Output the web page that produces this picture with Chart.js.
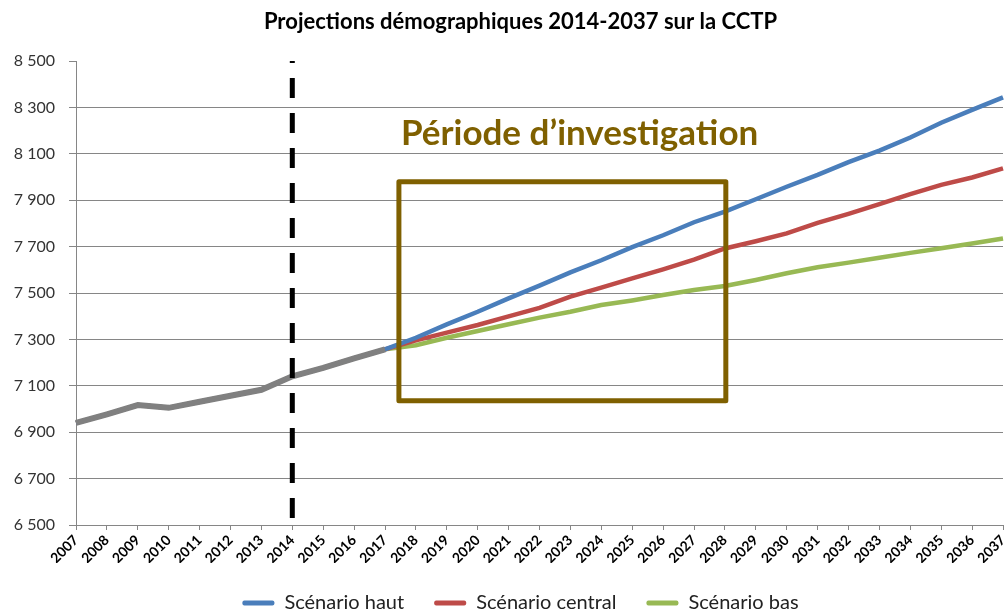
<!DOCTYPE html>
<html lang="fr">
<head>
<meta charset="utf-8">
<title>Projections démographiques 2014-2037 sur la CCTP</title>
<script src="https://cdn.jsdelivr.net/npm/chart.js@4.4.1/dist/chart.umd.min.js"></script>
<style>
  html, body { margin: 0; padding: 0; background: #fff; }
  #wrap { width: 1005px; height: 613px; position: relative; }
</style>
</head>
<body>
<div id="wrap"><canvas id="projections"></canvas></div>
<script>
// données
var annees = ["2007", "2008", "2009", "2010", "2011", "2012", "2013", "2014", "2015", "2016",
    "2017", "2018", "2019", "2020", "2021", "2022", "2023", "2024", "2025", "2026", "2027",
    "2028", "2029", "2030", "2031", "2032", "2033", "2034", "2035", "2036", "2037"];
var historique = [6940, 6977, 7017, 7005, 7031, 7057, 7083, 7141, 7177, 7218, 7257];
// projections 2018-2037
var scenarioHaut = [7307, 7365, 7419, 7477, 7532, 7589, 7641, 7698, 7749, 7805,
    7851, 7904, 7958, 8009, 8064, 8114, 8170, 8234, 8289, 8343];
var scenarioCentral = [7296, 7329, 7362, 7399, 7436, 7484, 7523, 7563, 7602, 7644,
    7692, 7723, 7757, 7802, 7841, 7883, 7926, 7966, 7998, 8037];
var scenarioBas = [7275, 7307, 7336, 7365, 7394, 7419, 7448, 7468, 7491, 7513,
    7530, 7556, 7585, 7611, 7631, 7652, 7673, 7693, 7713, 7735];
var yTicks = [6500, 6700, 6900, 7100, 7300, 7500, 7700, 7900, 8100, 8300, 8500];

var anneeRupture = "2014";
var cadre = { debut: 2017.45, fin: 2028.03, haut: 7979, bas: 7036 };
var libelleCadre = "Période d’investigation";

var brun = "#7f6000";
var police = "Lato, 'Open Sans', sans-serif";

function serie(projection) {
    return historique.concat(projection);
}

function formatMilliers(v) {
    var s = String(v);
    return s.slice(0, s.length - 3) + " " + s.slice(-3);
}

// titre et légende un peu décalés vers la droite, comme sur l'original
var decalage = {
    id: "decalage",
    afterLayout: function (chart) {
        [chart.titleBlock, chart.legend].forEach(function (b) {
            if (b) { b.left += 19; b.right += 19; }
        });
    }
};

// trait pointillé 2014, cadre et libellé
var annotations = {
    id: "annotations",
    afterDatasetsDraw: function (chart) {
        var ctx = chart.ctx;
        var x = chart.scales.x, y = chart.scales.y;
        var area = chart.chartArea;
        ctx.save();

        var xr = x.getPixelForValue(annees.indexOf(anneeRupture));
        ctx.beginPath();
        ctx.setLineDash([20, 15]);
        ctx.lineDashOffset = 18;
        ctx.lineWidth = 5;
        ctx.strokeStyle = "#000";
        ctx.moveTo(xr, area.top);
        ctx.lineTo(xr, area.bottom);
        ctx.stroke();

        ctx.setLineDash([]);
        var x0 = x.getPixelForValue(cadre.debut - 2007);
        var x1 = x.getPixelForValue(cadre.fin - 2007);
        var y0 = y.getPixelForValue(cadre.haut);
        var y1 = y.getPixelForValue(cadre.bas);
        ctx.lineWidth = 5;
        ctx.lineJoin = "round";
        ctx.strokeStyle = brun;
        ctx.strokeRect(x0, y0, x1 - x0, y1 - y0);

        ctx.fillStyle = brun;
        ctx.font = "bold 35px " + police;
        ctx.textBaseline = "alphabetic";
        ctx.textAlign = "left";
        ctx.fillText(libelleCadre, x0 + 2, y.getPixelForValue(8138));
        ctx.restore();
    }
};

new Chart(document.getElementById("projections"), {
    type: "line",
    data: {
        labels: annees,
        datasets: [
            {
                label: "Historique",
                data: historique,
                borderColor: "#808080",
                backgroundColor: "#808080",
                borderWidth: 6
            },
            {
                label: "Scénario haut",
                data: serie(scenarioHaut),
                borderColor: "#4a7ebb",
                backgroundColor: "#4a7ebb",
                borderWidth: 4.5
            },
            {
                label: "Scénario central",
                data: serie(scenarioCentral),
                borderColor: "#be4b48",
                backgroundColor: "#be4b48",
                borderWidth: 4.5
            },
            {
                label: "Scénario bas",
                data: serie(scenarioBas),
                borderColor: "#98b954",
                backgroundColor: "#98b954",
                borderWidth: 4.5
            }
        ]
    },
    options: {
        responsive: true,
        maintainAspectRatio: false,
        animation: false,
        elements: { point: { radius: 0 }, line: { tension: 0 } },
        layout: { padding: { left: 0, right: 2, top: 0, bottom: -10 } },
        plugins: {
            title: {
                display: true,
                text: "Projections démographiques 2014-2037 sur la CCTP",
                color: "#000",
                font: { family: police, size: 22, weight: "bold" },
                padding: { top: 9, bottom: 25.6 }
            },
            legend: {
                position: "bottom",
                labels: {
                    color: "#222",
                    font: { family: police, size: 20 },
                    boxWidth: 32,
                    boxHeight: 5,
                    padding: 30,
                    useBorderRadius: true,
                    borderRadius: 2,
                    generateLabels: function (chart) {
                        return Chart.defaults.plugins.legend.labels.generateLabels(chart)
                            .filter(function (l) { return l.datasetIndex !== 0; })
                            .map(function (l) { l.lineWidth = 0; return l; });
                    }
                }
            },
            tooltip: { enabled: false }
        },
        scales: {
            x: {
                offset: false,
                afterFit: function (scale) {
                    scale.height = 38;
                    scale.paddingRight = 0;
                },
                grid: { drawOnChartArea: false, drawTicks: true, tickLength: 5, color: "#868686" },
                border: { color: "#868686" },
                ticks: {
                    autoSkip: false,
                    maxRotation: 45,
                    minRotation: 45,
                    color: "#000",
                    padding: 2,
                    font: { family: police, size: 14, weight: "bold" }
                }
            },
            y: {
                min: yTicks[0],
                max: yTicks[yTicks.length - 1],
                afterFit: function (scale) { scale.width = 76; },
                afterBuildTicks: function (scale) {
                    scale.ticks = yTicks.map(function (v) { return { value: v }; });
                },
                grid: {
                    color: function (c) { return c.tick && c.tick.value === 8500 ? "rgba(0,0,0,0)" : "#868686"; },
                    tickColor: "#868686",
                    tickLength: 7
                },
                border: { color: "#868686" },
                ticks: {
                    color: "#333",
                    padding: 14,
                    font: { family: police, size: 16 },
                    callback: function (v) { return formatMilliers(v); }
                }
            }
        }
    },
    plugins: [decalage, annotations]
});
</script>
</body>
</html>
